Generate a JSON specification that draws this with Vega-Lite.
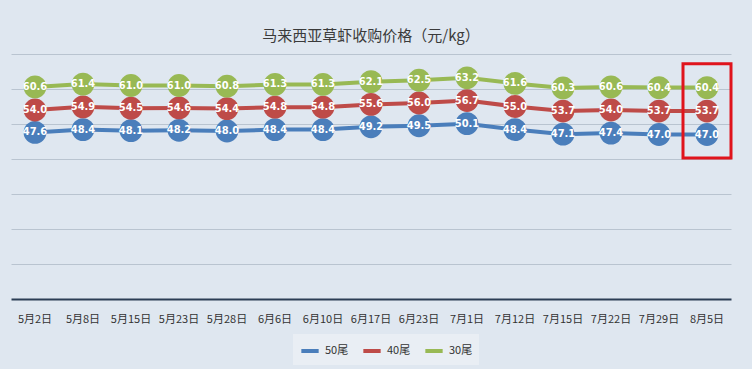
{
  "$schema": "https://vega.github.io/schema/vega-lite/v6.json",
  "autosize": {"type": "none"},
  "width": 720,
  "height": 245,
  "padding": {"left": 11, "top": 54, "right": 21, "bottom": 70},
  "background": "#dfe7f0",
  "title": {"text": "马来西亚草虾收购价格（元/kg）", "fontSize": 15, "font": "Noto Sans CJK SC", "fontWeight": "normal", "color": "#3a3a3a", "offset": 10},
  "config": {
    "view": {"stroke": null},
    "font": "Noto Sans CJK SC"
  },
  "datasets": {
    "prices": [
      {"date": "5月2日", "series": "50尾", "price": 47.6},
      {"date": "5月8日", "series": "50尾", "price": 48.4},
      {"date": "5月15日", "series": "50尾", "price": 48.1},
      {"date": "5月23日", "series": "50尾", "price": 48.2},
      {"date": "5月28日", "series": "50尾", "price": 48.0},
      {"date": "6月6日", "series": "50尾", "price": 48.4},
      {"date": "6月10日", "series": "50尾", "price": 48.4},
      {"date": "6月17日", "series": "50尾", "price": 49.2},
      {"date": "6月23日", "series": "50尾", "price": 49.5},
      {"date": "7月1日", "series": "50尾", "price": 50.1},
      {"date": "7月12日", "series": "50尾", "price": 48.4},
      {"date": "7月15日", "series": "50尾", "price": 47.1},
      {"date": "7月22日", "series": "50尾", "price": 47.4},
      {"date": "7月29日", "series": "50尾", "price": 47.0},
      {"date": "8月5日", "series": "50尾", "price": 47.0},
      {"date": "5月2日", "series": "40尾", "price": 54.0},
      {"date": "5月8日", "series": "40尾", "price": 54.9},
      {"date": "5月15日", "series": "40尾", "price": 54.5},
      {"date": "5月23日", "series": "40尾", "price": 54.6},
      {"date": "5月28日", "series": "40尾", "price": 54.4},
      {"date": "6月6日", "series": "40尾", "price": 54.8},
      {"date": "6月10日", "series": "40尾", "price": 54.8},
      {"date": "6月17日", "series": "40尾", "price": 55.6},
      {"date": "6月23日", "series": "40尾", "price": 56.0},
      {"date": "7月1日", "series": "40尾", "price": 56.7},
      {"date": "7月12日", "series": "40尾", "price": 55.0},
      {"date": "7月15日", "series": "40尾", "price": 53.7},
      {"date": "7月22日", "series": "40尾", "price": 54.0},
      {"date": "7月29日", "series": "40尾", "price": 53.7},
      {"date": "8月5日", "series": "40尾", "price": 53.7},
      {"date": "5月2日", "series": "30尾", "price": 60.6},
      {"date": "5月8日", "series": "30尾", "price": 61.4},
      {"date": "5月15日", "series": "30尾", "price": 61.0},
      {"date": "5月23日", "series": "30尾", "price": 61.0},
      {"date": "5月28日", "series": "30尾", "price": 60.8},
      {"date": "6月6日", "series": "30尾", "price": 61.3},
      {"date": "6月10日", "series": "30尾", "price": 61.3},
      {"date": "6月17日", "series": "30尾", "price": 62.1},
      {"date": "6月23日", "series": "30尾", "price": 62.5},
      {"date": "7月1日", "series": "30尾", "price": 63.2},
      {"date": "7月12日", "series": "30尾", "price": 61.6},
      {"date": "7月15日", "series": "30尾", "price": 60.3},
      {"date": "7月22日", "series": "30尾", "price": 60.6},
      {"date": "7月29日", "series": "30尾", "price": 60.4},
      {"date": "8月5日", "series": "30尾", "price": 60.4}
    ],
    "highlight": [
      {"date": "8月5日", "top": 67.2, "bottom": 40.3}
    ]
  },
  "encoding": {
    "x": {
      "field": "date", "type": "nominal", "sort": null,
      "scale": {"type": "band", "paddingInner": 0, "paddingOuter": 0},
      "axis": {"title": null, "labelAngle": 0, "labelFontSize": 11, "labelColor": "#333333", "ticks": false, "domainColor": "#2c3e55", "domainWidth": 2, "labelPadding": 14, "grid": false, "labelFont": "Noto Sans CJK SC"}
    }
  },
  "layer": [
    {
      "data": {"name": "prices"},
      "mark": {"type": "line", "strokeWidth": 4},
      "encoding": {
        "y": {"field": "price", "type": "quantitative", "scale": {"domain": [0, 70]}, "axis": {"title": null, "labels": false, "ticks": false, "domain": false, "tickCount": 7, "values": [10, 20, 30, 40, 50, 60, 70], "gridColor": "#b9c4d0", "gridWidth": 1}},
        "color": {
          "field": "series", "type": "nominal",
          "scale": {"domain": ["50尾", "40尾", "30尾"], "range": ["#4a7ebb", "#be4b48", "#98b954"]},
          "legend": {"title": null, "orient": "none", "legendX": 282, "legendY": 280, "direction": "horizontal", "symbolType": "stroke", "symbolStrokeWidth": 4, "symbolSize": 300, "labelFontSize": 11, "labelColor": "#333333", "fillColor": "#e9eef4", "padding": 6, "columnPadding": 6, "labelFont": "Noto Sans CJK SC"}
        },
        "detail": {"field": "series"}
      }
    },
    {
      "data": {"name": "prices"},
      "mark": {"type": "point", "filled": true, "opacity": 1, "size": 520, "shape": "circle"},
      "encoding": {
        "y": {"field": "price", "type": "quantitative"},
        "color": {"field": "series", "type": "nominal", "legend": null}
      }
    },
    {
      "data": {"name": "prices"},
      "mark": {"type": "text", "color": "white", "fontSize": 11, "fontWeight": "bold", "font": "Liberation Sans Narrow, DejaVu Sans Condensed, Liberation Sans", "baseline": "middle", "align": "center"},
      "encoding": {
        "y": {"field": "price", "type": "quantitative"},
        "text": {"field": "price", "type": "quantitative", "format": ".1f"}
      }
    },
    {
      "data": {"name": "highlight"},
      "mark": {"type": "rect", "fill": null, "stroke": "#e0141c", "strokeWidth": 3},
      "encoding": {
        "y": {"field": "top", "type": "quantitative"},
        "y2": {"field": "bottom"}
      }
    }
  ]
}
